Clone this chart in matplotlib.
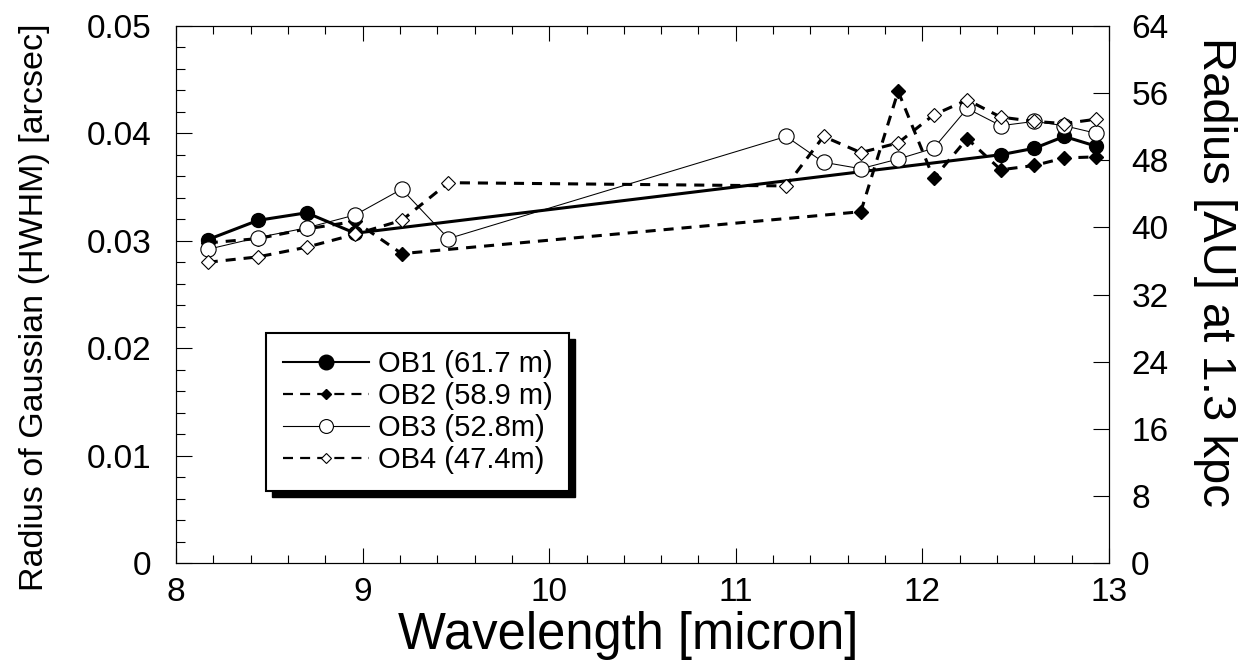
import numpy as np
import matplotlib
matplotlib.use('Agg')
import matplotlib.pyplot as plt
from matplotlib.lines import Line2D
from matplotlib.patches import Rectangle
from matplotlib.transforms import IdentityTransform
from matplotlib.ticker import MultipleLocator, FuncFormatter, NullLocator

plt.rcParams['font.family'] = ['Liberation Sans', 'DejaVu Sans']

# wavelength grid [micron] and HWHM radius [arcsec] per observation block
wl_ob1 = [8.17, 8.44, 8.70, 8.96, 12.42, 12.60, 12.76, 12.93]
r_ob1 = [0.0301, 0.0319, 0.0326, 0.0307, 0.0380, 0.0386, 0.0397, 0.0388]

wl_ob2 = [8.17, 8.44, 8.70, 8.96, 9.21, 11.67, 11.87, 12.06, 12.24, 12.42, 12.60, 12.76, 12.93]
r_ob2 = [0.0298, 0.0302, 0.0311, 0.0318, 0.0288, 0.0327, 0.0439, 0.0358, 0.0395,
         0.0366, 0.0370, 0.0377, 0.0378]

wl_ob3 = [8.17, 8.44, 8.70, 8.96, 9.21, 9.46, 11.27, 11.47, 11.67, 11.87, 12.06, 12.24,
          12.42, 12.60, 12.76, 12.93]
r_ob3 = [0.0292, 0.0303, 0.0312, 0.0324, 0.0348, 0.0302, 0.0397, 0.0373, 0.0367, 0.0376,
         0.0386, 0.0423, 0.0407, 0.0411, 0.0407, 0.0400]

wl_ob4 = [8.17, 8.44, 8.70, 8.96, 9.21, 9.46, 11.27, 11.47, 11.67, 11.87, 12.06, 12.24,
          12.42, 12.60, 12.76, 12.93]
r_ob4 = [0.0280, 0.0285, 0.0294, 0.0306, 0.0319, 0.0354, 0.0351, 0.0397, 0.0382, 0.0391,
         0.0417, 0.0431, 0.0415, 0.0411, 0.0409, 0.0413]

labels = ['OB1 (61.7 m)', 'OB2 (58.9 m)', 'OB3 (52.8m)', 'OB4 (47.4m)']

fig = plt.figure(figsize=(12.5, 6.66), dpi=100)
ax = fig.add_axes([0.1408, 0.1542, 0.7464, 0.8072])

dash = (3.3, 2.6)
ax.plot(wl_ob1, r_ob1, color='k', lw=2.2, marker='o', ms=10, mfc='k', mec='k')
ax.plot(wl_ob2, r_ob2, color='k', lw=2.2, dashes=dash, marker='D', ms=7.5, mfc='k', mec='k')
ax.plot(wl_ob3, r_ob3, color='k', lw=0.75, marker='o', ms=11, mfc='white', mec='k', mew=0.8)
ax.plot(wl_ob4, r_ob4, color='k', lw=2.2, dashes=dash, marker='D', ms=7, mfc='white',
        mec='k', mew=0.8)

ax.set_xlim(8, 13)
ax.set_ylim(0, 0.05)
ax.xaxis.set_major_locator(MultipleLocator(1))
ax.xaxis.set_minor_locator(MultipleLocator(0.2))
ax.yaxis.set_major_locator(MultipleLocator(0.01))
ax.yaxis.set_minor_locator(MultipleLocator(0.002))
ax.yaxis.set_major_formatter(FuncFormatter(lambda v, p: '0' if abs(v) < 1e-9 else f'{v:.2f}'))

ax.tick_params(axis='x', which='both', direction='in', top=True, bottom=True, width=0.8)
ax.tick_params(axis='x', which='major', length=10.8, labelsize=24, pad=10)
ax.tick_params(axis='x', which='minor', length=5.8)
ax.tick_params(axis='y', which='both', direction='in', left=True, right=False, width=0.8)
ax.tick_params(axis='y', which='major', length=11.5, labelsize=24, pad=18)
ax.tick_params(axis='y', which='minor', length=6.5)

ax2 = ax.twinx()
ax2.set_ylim(0, 64)
ax2.set_yticks(np.arange(0, 65, 8))
ax2.yaxis.set_minor_locator(NullLocator())
ax2.tick_params(axis='y', direction='in', length=11.5, width=0.8, labelsize=24, pad=16)

for a in (ax, ax2):
    for s in a.spines.values():
        s.set_linewidth(0.8)

ax.set_xlabel('Wavelength [micron]', fontsize=36.5)
ax.xaxis.label.set_va('center')
ax.xaxis.set_label_coords((628 - 176) / 933, (563.3 - 635) / 537.6)

ax.set_ylabel('Radius of Gaussian (HWHM) [arcsec]', fontsize=24.5)
ax.yaxis.label.set_va('center')
ax.yaxis.set_label_coords((35 - 176) / 933, (563.3 - 307) / 537.6)

ax2.set_ylabel('Radius [AU] at 1.3 kpc', fontsize=34, rotation=270)
ax2.yaxis.label.set_va('center')
ax2.yaxis.set_label_coords((1215 - 176) / 933, (563.3 - 272) / 537.6)

# legend proxies (thinner lines, smaller diamonds than the data)
handles = [
    Line2D([], [], color='k', lw=1.5, marker='o', ms=10.5, mfc='k', mec='k'),
    Line2D([], [], color='k', lw=1.6, dashes=(4.5, 3.2), marker='D', ms=5, mfc='k', mec='k'),
    Line2D([], [], color='k', lw=0.8, marker='o', ms=10, mfc='white', mec='k', mew=0.8),
    Line2D([], [], color='k', lw=1.6, dashes=(4.5, 3.2), marker='D', ms=5.5, mfc='white',
           mec='k', mew=0.8),
]
leg = ax.legend(handles, labels, loc='upper left', bbox_to_anchor=(0.0965, 0.4284),
                borderaxespad=0, fontsize=21, handlelength=2.95, handletextpad=0.3,
                labelspacing=0.14, borderpad=0.58, fancybox=False, framealpha=1,
                edgecolor='k')
leg.get_frame().set_linewidth(1.5)
leg.set_zorder(5)

# black drop shadow below/right of the legend box
fig.canvas.draw()
bb = leg.get_frame().get_window_extent(fig.canvas.get_renderer())
shadow = Rectangle((bb.x0 + 6, bb.y0 - 6), bb.width, bb.height, transform=IdentityTransform(),
                   facecolor='k', edgecolor='k', clip_on=False, zorder=4.9)
ax.add_artist(shadow)

fig.savefig('out.png', dpi=100)
